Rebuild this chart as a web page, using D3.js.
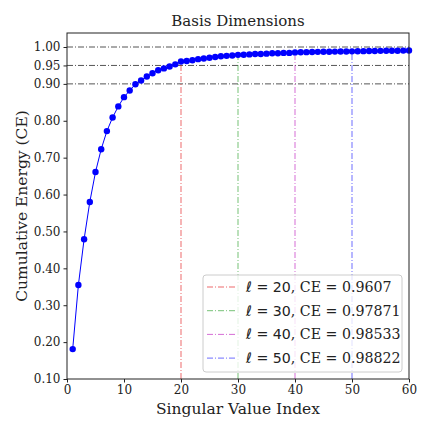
<!DOCTYPE html>
<html><head><meta charset="utf-8">
<script src="https://cdn.jsdelivr.net/npm/d3@7"></script>
<style>body{margin:0;background:#fff}svg{display:block}text{font-family:"DejaVu Serif",serif;fill:#222}</style>
</head><body><svg id="c" width="432" height="432"></svg>
<script>
const ceValues = [0.181,0.355,0.479,0.580,0.661,0.723,0.772,0.809,0.839,0.864,
0.882,0.899,0.909,0.920,0.929,0.937,0.942,0.947,0.953,0.9607,
0.962,0.964,0.967,0.969,0.971,0.973,0.975,0.976,0.977,0.97871,
0.979,0.980,0.981,0.981,0.982,0.983,0.983,0.984,0.984,0.98533,
0.9857,0.986,0.9865,0.9868,0.987,0.9873,0.9875,0.9877,0.988,0.98822,
0.9885,0.9888,0.989,0.9893,0.9895,0.9897,0.9899,0.990,0.9902,0.9904];
const markL = [20,30,40,50];
const markCE = [0.9607,0.97871,0.98533,0.98822];
const markColors = ["#e41a1c","#2ca02c","#c020c0","#2020ff"];
const yTicks = [0.10,0.20,0.30,0.40,0.50,0.60,0.70,0.80,0.90,0.95,1.00];
const xTicks = [0,10,20,30,40,50,60];
const hLines = [0.90,0.95,1.00];

const svg = d3.select("#c");
const L=67,R=409,T=33,B=379;
const x = d3.scaleLinear().domain([0,60]).range([L,R]);
const y = d3.scaleLinear().domain([0.10,1.0]).range([B,47]);
const g = svg.append("g");

hLines.forEach(v=>{
  g.append("line").attr("x1",L).attr("x2",R).attr("y1",y(v)).attr("y2",y(v))
   .attr("stroke","#555").attr("stroke-width",1).attr("stroke-dasharray","6,2,1,2");
});
markL.forEach((l,i)=>{
  g.append("line").attr("x1",x(l)).attr("x2",x(l)).attr("y1",B).attr("y2",y(markCE[i]))
   .attr("stroke",markColors[i]).attr("stroke-opacity",0.65).attr("stroke-width",1).attr("stroke-dasharray","6,2,1,2");
});
const pts = ceValues.map((v,i)=>[i+1,v]);
g.append("path").datum(pts).attr("fill","none").attr("stroke","#0000ff").attr("stroke-width",1)
 .attr("d",d3.line().x(d=>x(d[0])).y(d=>y(d[1])));
g.selectAll("circle.p").data(pts).enter().append("circle").attr("class","p")
 .attr("cx",d=>x(d[0])).attr("cy",d=>y(d[1])).attr("r",3.2).attr("fill","#0000ff");

svg.append("rect").attr("x",L).attr("y",T).attr("width",R-L).attr("height",B-T)
 .attr("fill","none").attr("stroke","#222").attr("stroke-width",1);

const xa = svg.append("g").attr("transform",`translate(0,${B})`)
 .call(d3.axisBottom(x).tickValues(xTicks).tickSize(3.5).tickPadding(3).tickFormat(d3.format("d")));
const ya = svg.append("g").attr("transform",`translate(${L},0)`)
 .call(d3.axisLeft(y).tickValues(yTicks).tickSize(3.5).tickPadding(3).tickFormat(d3.format(".2f")));
[xa,ya].forEach(a=>{a.select(".domain").remove();a.selectAll("text").attr("font-size",12).attr("font-family","DejaVu Serif").attr("fill","#222");a.selectAll("line").attr("stroke","#222");});

svg.append("text").attr("x",(L+R)/2).attr("y",26).attr("text-anchor","middle").attr("font-size",15).text("Basis Dimensions");
svg.append("text").attr("x",(L+R)/2).attr("y",414).attr("text-anchor","middle").attr("font-size",15.5).text("Singular Value Index");
svg.append("text").attr("transform",`translate(27,${(T+B)/2}) rotate(-90)`).attr("text-anchor","middle").attr("font-size",15.5).text("Cumulative Energy (CE)");

const lg = svg.append("g");
lg.append("rect").attr("x",203).attr("y",275).attr("width",199).attr("height",97).attr("rx",3)
 .attr("fill","#fff").attr("fill-opacity",0.8).attr("stroke","#ccc").attr("stroke-width",1);
markL.forEach((l,i)=>{
  const yy = 287+i*23.7;
  lg.append("line").attr("x1",207).attr("x2",235).attr("y1",yy).attr("y2",yy)
   .attr("stroke",markColors[i]).attr("stroke-opacity",0.65).attr("stroke-dasharray","6,2,1,2");
  const t = lg.append("text").attr("x",246).attr("y",yy+5).attr("font-size",14.2);
  t.append("tspan").attr("font-style","italic").attr("font-family","DejaVu Sans").text("ℓ");
  t.append("tspan").attr("font-family","DejaVu Sans").text(` = ${l}`);
  t.append("tspan").text(`, CE = ${markCE[i]}`);
});
</script></body></html>
